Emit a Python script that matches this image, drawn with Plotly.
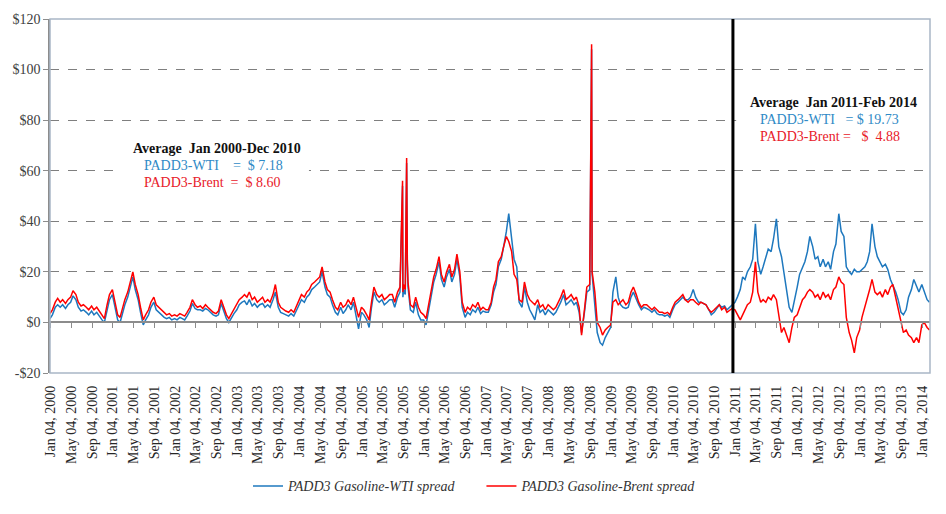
import pandas as pd
import plotly.graph_objects as go

# ---- semi-monthly readings (1st and 15th of each month), $/bbl ----
brent_2000 = [3.5, 5, 8, 9.5, 8, 9, 7.5, 9, 10, 12.5, 11, 8, 6.5, 7, 6, 5, 6.5, 5, 6, 4.5, 3, 1.5, 7, 11]
wti_2000 = [1.5, 3, 6, 7, 6, 7, 5.5, 7, 8, 10.5, 9, 6, 4.5, 5, 4, 3, 4.5, 3, 4, 2.5, 1, 0, 5, 9]
brent_2001 = [13, 9, 3, 2, 6, 9, 12, 16, 20, 15, 11, 6, 1, 3, 5, 8, 10, 7, 6, 5, 4, 3, 3.5, 2.5]
wti_2001 = [11, 7, 1, 0, 4, 7, 10, 14, 18, 13, 9, 4, -1, 1, 3, 6, 8, 5, 4, 3, 2, 1.5, 2, 1]
brent_2002 = [3, 2.5, 3.5, 3, 2.5, 4, 6, 9, 7, 6, 6.5, 5.5, 7, 6, 5, 4, 3.5, 4.5, 9, 6, 3, 1.5, 3.5, 5]
wti_2002 = [1.5, 1, 2, 1.5, 1, 2.5, 4.5, 7.5, 5.5, 5, 5, 4.5, 5.5, 5, 4, 3, 2.5, 3, 7.5, 4.5, 1.5, 0, 2, 3.5]
brent_2003 = [7, 9, 10, 11, 10, 12, 9, 10, 8, 9, 10, 8, 9, 8, 11, 15, 8, 6, 5, 4.5, 4, 5, 4, 6]
wti_2003 = [5, 7, 8, 8.5, 7, 9, 6.5, 7.5, 6, 7, 7.5, 6, 7, 6, 9, 12, 6, 4, 3.5, 3, 2.5, 3.5, 2.5, 4.5]
brent_2004 = [9, 11, 10, 12, 13, 15, 16, 17, 18, 22, 16, 13, 12, 9, 6, 5, 8, 6, 7, 9, 7, 10, 5, 2]
wti_2004 = [7, 9, 8, 10, 11, 13, 14, 15, 16, 20, 14, 11, 10, 7, 4, 3, 6, 3.5, 5, 7, 5, 8, 2.5, -2.5]
brent_2005 = [6, 5, 3, 1, 8, 14, 11, 10, 11, 9, 10, 11, 11, 8, 12, 14, 12, 13, 16, 7, 6, 10, 6, 4]
wti_2005 = [4, 3, 1, -2, 6, 12, 9, 8, 9, 7, 8, 9, 9, 6, 10, 12, 10, 11, 14, 5, 4, 8, 3, 1]
brent_2006 = [3, 1.5, 8, 14, 18, 21, 26, 19, 16, 20, 23, 18, 21, 27, 20, 8, 4, 6, 5, 7, 6, 8, 5, 6]
wti_2006 = [1, -1, 6, 12, 16, 19, 24, 17, 14, 18, 21, 16, 19, 25, 18, 6, 2, 4, 3, 5, 4, 6, 3.5, 4.5]
brent_2007 = [5, 5, 8, 14, 17, 24, 26, 30, 34, 32, 28, 19, 17, 9, 8, 16, 11, 9, 8, 7, 9, 6, 7, 5]
wti_2007 = [4, 4, 7, 12, 15, 22, 25, 30, 36, 43, 33, 25, 22, 8, 6, 14, 8, 5, 3, 1, 7, 4, 5, 3]
brent_2008 = [7, 6, 5, 6, 8, 10, 13, 9, 10, 11, 9, 10, 6, -5, 5, 14, 15, 20, 12, 0, -2, -5, -3, -2]
wti_2008 = [5, 4, 3, 4, 6, 8, 11, 7, 8, 9, 7, 8, 4, -4, 4, 12, 13, 19, 8, -4, -8, -9, -6, -4]
brent_2009 = [-1, 8, 9, 7, 8, 9, 7, 8, 12, 14, 11, 8, 6, 7, 7, 6, 5, 6, 5, 4, 4, 3.5, 4, 3]
wti_2009 = [-2, 12, 18, 10, 7, 6, 5.5, 6, 10, 12, 9, 7, 5, 6, 5.5, 5, 4, 5, 3.5, 3, 3, 2.5, 3, 2]
brent_2010 = [6, 8, 9, 10, 11, 9, 8, 9, 9, 8, 7, 8, 7.5, 7, 5, 4, 5, 6, 7, 5, 6, 4, 5, 5.5]
wti_2010 = [5, 7, 8, 9, 10, 9, 9, 10, 13, 10, 8, 8, 7.5, 7, 5, 3, 4, 5.5, 7, 6, 6.5, 5, 6, 7]
brent_2011 = [5, 3, 1, 3, 5, 7, 8, 12, 24, 12, 8, 9, 8, 10, 9, 11, 9, 2, -4, -2, -5, -8, -2, 2]
wti_2011 = [8, 10, 13, 18, 17, 20, 22, 25, 39, 24, 19, 22, 26, 29, 28, 33, 41, 30, 26, 20, 12, 6, 4, 8]
brent_2012 = [3, 6, 9, 10, 12, 13, 12, 10, 11, 9, 12, 10, 11, 9, 13, 14, 18, 16, 15, 2, -4, -7, -12, -6]
wti_2012 = [14, 19, 22, 24, 28, 34, 30, 25, 26, 22, 25, 22, 24, 21, 28, 31, 43, 36, 34, 22, 20, 19, 21, 20]
brent_2013 = [-3, 2, 6, 10, 13, 17, 12, 11, 12, 10, 13, 11, 14, 15, 10, 6, 0, -4, -3, -5, -6, -8, -6, -8]
wti_2013 = [20, 21, 22, 24, 28, 39, 30, 26, 24, 22, 23, 21, 17, 15, 12, 9, 4, 3, 5, 10, 13, 17, 14, 12]
brent_2014 = [-1, 0, -2, -3]
wti_2014 = [15, 12, 9, 8]

# hurricane spikes (Katrina, Rita, Ike)
spike_dates = ["2005-08-30", "2005-09-05", "2005-09-23", "2005-09-27", "2008-09-12"]
spike_brent = [56, 15, 65, 25, 110]
spike_wti = [54, 13, 63, 23, 108]

tick_years = list(range(2000, 2015))
tick_months = ["Jan", "May", "Sep"]
y_ticks = [-20, 0, 20, 40, 60, 80, 100, 120]
y_ticktext = ["-$20", "$0", "$20", "$40", "$60", "$80", "$100", "$120"]

brent = sum([brent_2000, brent_2001, brent_2002, brent_2003, brent_2004, brent_2005, brent_2006,
             brent_2007, brent_2008, brent_2009, brent_2010, brent_2011, brent_2012, brent_2013,
             brent_2014], [])
wti = sum([wti_2000, wti_2001, wti_2002, wti_2003, wti_2004, wti_2005, wti_2006,
           wti_2007, wti_2008, wti_2009, wti_2010, wti_2011, wti_2012, wti_2013,
           wti_2014], [])
dates = pd.date_range("2000-01-01", periods=len(brent), freq="SMS")
df = pd.DataFrame({"date": dates, "wti": wti, "brent": brent})
sp = pd.DataFrame({"date": pd.to_datetime(spike_dates), "wti": spike_wti, "brent": spike_brent})
df = pd.concat([df, sp]).sort_values("date").reset_index(drop=True)

month_num = {"Jan": 1, "May": 5, "Sep": 9}
tickvals, ticktext = [], []
for y in tick_years:
    for m in tick_months:
        d = pd.Timestamp(year=y, month=month_num[m], day=4)
        if d <= pd.Timestamp("2014-01-04"):
            tickvals.append(d)
            ticktext.append(f"{m} 04, {y}")

BLUE = "#1E78BE"
RED = "#FF0000"
SERIF = "Liberation Serif"
NB = "\u00a0"
xr = ["2000-01-01", "2014-02-18"]

fig = go.Figure()
fig.add_trace(go.Scatter(x=df["date"], y=df["wti"], mode="lines",
                         name="PADD3 Gasoline-WTI spread" + NB * 6,
                         line=dict(color=BLUE, width=1.5)))
fig.add_trace(go.Scatter(x=df["date"], y=df["brent"], mode="lines",
                         name="PADD3 Gasoline-Brent spread",
                         line=dict(color=RED, width=1.5)))
# helper trace for the axis drawn at $0
fig.add_trace(go.Scatter(x=[df["date"].iloc[0]], y=[0], xaxis="x2", mode="markers",
                         marker=dict(opacity=0), showlegend=False, hoverinfo="skip"))

fig.update_layout(
    width=946, height=514,
    margin=dict(l=46, r=16, t=16, b=139),
    paper_bgcolor="white", plot_bgcolor="white",
    font=dict(family=SERIF, color="#333333"),
    xaxis=dict(type="date", range=xr, tickvals=tickvals, ticktext=ticktext, tickangle=-90,
               tickfont=dict(family=SERIF, size=14, color="#262626"), ticks="", showgrid=False,
               showline=False, zeroline=False, ticklabelstandoff=9),
    xaxis2=dict(type="date", range=xr, overlaying="x", anchor="free", position=20 / 140,
                tickvals=tickvals, showticklabels=False, ticks="outside", ticklen=5,
                tickcolor="#8C8C8C", showline=True, linecolor="#8C8C8C", linewidth=1.5,
                showgrid=False, zeroline=False),
    yaxis=dict(range=[-20, 120], tickvals=y_ticks, ticktext=y_ticktext,
               tickfont=dict(family=SERIF, size=14, color="#404040"),
               showgrid=True, gridcolor="#7F7F7F", griddash="dash", gridwidth=1,
               zeroline=False, showline=True, linecolor="#8C8C8C", linewidth=1.5,
               ticks="outside", ticklen=5, tickcolor="#8C8C8C"),
    legend=dict(orientation="h", x=0.225, xanchor="left", y=-0.32, yanchor="middle",
                font=dict(family=SERIF, size=14, color="#333333", style="italic"),
                bgcolor="rgba(0,0,0,0)"),
    showlegend=True,
)

shapes = [
    dict(type="rect", xref="paper", yref="paper", x0=0, x1=1, y0=0, y1=1,
         line=dict(color="#A9B6C6", width=1.5), fillcolor="rgba(0,0,0,0)", layer="above"),
    dict(type="rect", xref="x", yref="y", x0="2001-02-13", x1="2004-02-28", y0=51.5, y1=72.5,
         line=dict(width=0), fillcolor="white", layer="above"),
    dict(type="rect", xref="x", yref="y", x0="2011-01-08", x1="2014-01-15", y0=69.5, y1=90.5,
         line=dict(width=0), fillcolor="white", layer="above"),
    dict(type="line", xref="x", yref="paper", x0="2010-12-20", x1="2010-12-20", y0=0, y1=1,
         line=dict(color="black", width=3), layer="above"),
]
fig.update_layout(shapes=shapes)

ann = [
    ("2001-04-23", 68.6, "<b>Average" + NB * 2 + "Jan 2000-Dec 2010</b>", "#111111"),
    ("2001-06-21", 62.0, "PADD3-WTI" + NB * 4 + "=" + NB * 2 + "$ 7.18", "#2F8AC6"),
    ("2001-06-21", 55.4, "PADD3-Brent" + NB * 2 + "=" + NB * 2 + "$ 8.60", "#E8202A"),
    ("2011-03-19", 86.9, "<b>Average" + NB * 2 + "Jan 2011-Feb 2014</b>", "#111111"),
    ("2011-05-16", 80.3, "PADD3-WTI" + NB * 3 + "=" + NB + "$ 19.73", "#2F8AC6"),
    ("2011-05-16", 73.7, "PADD3-Brent" + NB + "=" + NB * 3 + "$" + NB + " 4.88", "#E8202A"),
]
for x, y, t, c in ann:
    fig.add_annotation(x=x, y=y, xref="x", yref="y", text=t, showarrow=False,
                       xanchor="left", yanchor="middle",
                       font=dict(family=SERIF, size=14, color=c))

fig.write_html("out.html")
